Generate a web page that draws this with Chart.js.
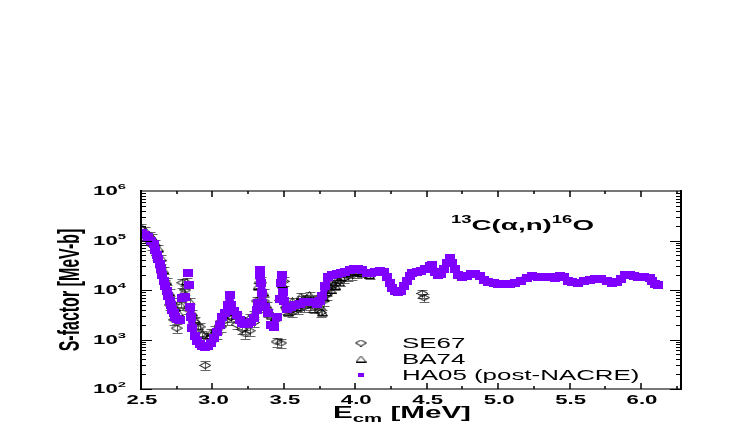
<!DOCTYPE html>
<html>
<head>
<meta charset="utf-8">
<script src="https://cdn.jsdelivr.net/npm/chart.js@4/dist/chart.umd.min.js"></script>
<style>
  body { margin: 0; background: #fff; }
  canvas { display: block; }
</style>
</head>
<body>
<canvas id="sfactorChart" width="747" height="436"></canvas>
<script>
// HA05 (post-NACRE) S-factor curve
const haE = [2.51, 2.53, 2.55, 2.57, 2.59, 2.60, 2.61, 2.62, 2.63, 2.64, 2.65, 2.66, 2.67, 2.68, 2.69, 2.70,
    2.71, 2.72, 2.73, 2.74, 2.75, 2.77, 2.79, 2.81, 2.83, 2.835, 2.845, 2.85, 2.86, 2.875, 2.89, 2.91,
    2.93, 2.95, 2.97, 2.99, 3.01, 3.03, 3.05, 3.07, 3.09, 3.11, 3.12, 3.13, 3.15, 3.17, 3.19, 3.21,
    3.23, 3.25, 3.27, 3.29, 3.31, 3.32, 3.33, 3.335, 3.34, 3.345, 3.35, 3.37, 3.39, 3.41, 3.43, 3.45,
    3.47, 3.48, 3.49, 3.495, 3.50, 3.52, 3.55, 3.58, 3.61, 3.64, 3.67, 3.70, 3.73, 3.75, 3.77, 3.79,
    3.81, 3.84, 3.87, 3.90, 3.93, 3.96, 3.99, 4.02, 4.05, 4.08, 4.11, 4.14, 4.17, 4.20, 4.22, 4.24,
    4.26, 4.28, 4.30, 4.32, 4.34, 4.36, 4.38, 4.40, 4.43, 4.46, 4.49, 4.52, 4.54, 4.56, 4.58, 4.60,
    4.62, 4.64, 4.66, 4.68, 4.70, 4.72, 4.75, 4.78, 4.81, 4.84, 4.87, 4.90, 4.93, 4.97, 5.00, 5.04,
    5.08, 5.12, 5.16, 5.20, 5.24, 5.28, 5.32, 5.36, 5.40, 5.43, 5.46, 5.49, 5.52, 5.56, 5.60, 5.64,
    5.68, 5.72, 5.76, 5.80, 5.83, 5.86, 5.89, 5.92, 5.95, 5.98, 6.02, 6.06, 6.08, 6.10, 6.12];
const haS = [1.45e5, 1.3e5, 1.15e5, 1.0e5, 8.5e4, 6.5e4, 5.2e4, 4.2e4, 3.3e4, 2.6e4, 2.0e4, 1.55e4, 1.2e4, 9.5e3, 7.5e3, 6.0e3,
    4.9e3, 4.0e3, 3.4e3, 2.9e3, 2.6e3, 2.5e3, 7.0e3, 7.2e3, 2.2e4, 1.25e4, 4.6e3, 2.8e3, 1.7e3, 1.2e3, 9.5e2, 8.0e2,
    7.3e2, 7.0e2, 7.3e2, 8.5e2, 1.05e3, 1.4e3, 2.0e3, 2.8e3, 3.5e3, 5.0e3, 8.0e3, 5.0e3, 3.8e3, 3.1e3, 2.5e3, 2.2e3,
    2.1e3, 2.1e3, 2.3e3, 2.7e3, 4.0e3, 5.5e3, 2.5e4, 2.0e4, 1.4e4, 8.5e3, 5.5e3, 4.5e3, 3.4e3, 2.0e3, 1.8e3, 2.8e3,
    6.5e3, 1.4e4, 2.0e4, 9.0e3, 6.0e3, 4.2e3, 4.5e3, 5.0e3, 5.2e3, 5.6e3, 5.8e3, 5.6e3, 5.2e3, 6.0e3, 7.5e3, 1.2e4,
    1.8e4, 2.0e4, 2.1e4, 2.2e4, 2.3e4, 2.5e4, 2.6e4, 2.7e4, 2.5e4, 2.2e4, 2.2e4, 2.3e4, 2.4e4, 2.3e4, 1.8e4, 1.4e4,
    1.1e4, 9.5e3, 9.0e3, 9.5e3, 1.2e4, 1.5e4, 1.9e4, 2.2e4, 2.3e4, 2.4e4, 2.6e4, 3.0e4, 3.2e4, 2.3e4, 2.0e4, 2.1e4,
    2.6e4, 3.5e4, 4.4e4, 3.5e4, 2.6e4, 2.0e4, 1.8e4, 1.9e4, 2.1e4, 2.1e4, 1.9e4, 1.6e4, 1.45e4, 1.4e4, 1.35e4, 1.32e4,
    1.32e4, 1.4e4, 1.55e4, 1.75e4, 1.9e4, 1.85e4, 1.8e4, 1.8e4, 1.75e4, 1.9e4, 1.8e4, 1.55e4, 1.45e4, 1.4e4, 1.5e4, 1.6e4,
    1.65e4, 1.65e4, 1.5e4, 1.4e4, 1.45e4, 1.7e4, 2.0e4, 2.0e4, 1.9e4, 1.8e4, 1.8e4, 1.75e4, 1.5e4, 1.35e4, 1.25e4];

// SE67 data (diamonds)
const seE = [2.52, 2.55, 2.58, 2.61, 2.64, 2.67, 2.70, 2.73, 2.75, 2.79, 2.81, 2.83, 2.87, 2.91, 2.95, 2.99,
    3.03, 3.06, 3.10, 3.13, 3.17, 3.21, 3.23, 3.26, 3.29, 3.31, 3.33, 3.36, 3.39, 3.45, 3.48, 3.50,
    3.52, 3.56, 3.60, 3.64, 3.68, 3.72, 3.76, 3.78, 3.80, 3.83, 3.86, 3.89, 3.92, 3.95, 3.98, 4.01,
    4.47, 4.48];
const seS = [1.2e5, 1.0e5, 8e4, 5e4, 2.8e4, 1.3e4, 5e3, 2.5e3, 1.7e3, 1.4e4, 1.0e4, 4e3, 2.3e3, 1.8e3, 3e2, 1.1e3,
    1.3e3, 1.8e3, 2.5e3, 2.8e3, 2e3, 1.6e3, 1.3e3, 1.5e3, 2.2e3, 6e3, 1.4e4, 6e3, 3.5e3, 9e2, 8.5e2, 1.5e4,
    4e3, 3.5e3, 4e3, 4.5e3, 5e3, 4.5e3, 3.5e3, 6e3, 8e3, 1.1e4, 1.3e4, 1.5e4, 1.7e4, 1.9e4, 2.0e4, 2.2e4,
    8.5e3, 7e3];
const seRelErr = 0.2;

// BA74 data (triangles)
const baE = [2.50, 2.53, 2.56, 2.58, 2.60, 2.62, 2.64, 2.66, 2.68, 2.70, 2.72, 2.74, 2.76, 2.78, 2.80, 2.82,
    2.84, 2.86, 2.88, 2.90, 2.93, 2.96, 2.99, 3.02, 3.05, 3.08, 3.11, 3.14, 3.17, 3.20, 3.23, 3.26,
    3.29, 3.32, 3.34, 3.36, 3.38, 3.41, 3.44, 3.47, 3.49, 3.51, 3.53, 3.54, 3.56, 3.57, 3.59, 3.60,
    3.62, 3.63, 3.65, 3.66, 3.68, 3.69, 3.71, 3.72, 3.74, 3.75, 3.77, 3.78, 3.80, 3.81, 3.83, 3.84,
    3.86, 3.87, 3.89, 3.90, 3.93, 3.96, 3.99, 4.02, 4.05, 4.10];
const baS = [1.9e5, 1.6e5, 1.3e5, 1.15e5, 9e4, 7e4, 4.5e4, 2.5e4, 1.5e4, 9e3, 6e3, 4.5e3, 3.5e3, 5e3, 9e3, 1.5e4,
    6e3, 3.5e3, 2.5e3, 1.8e3, 1.3e3, 1.2e3, 1.4e3, 1.6e3, 2.2e3, 3e3, 4.5e3, 3.5e3, 3e3, 2.5e3, 2.4e3, 2.8e3,
    3.3e3, 1.2e4, 1.6e4, 9e3, 5e3, 3e3, 2.8e3, 7e3, 1.3e4, 5e3, 3.5e3, 4e3, 6e3, 5e3, 4.5e3, 6e3,
    7.5e3, 6.5e3, 5e3, 7e3, 8e3, 6.5e3, 4e3, 6e3, 7e3, 5e3, 3.5e3, 7e3, 9e3, 1.2e4, 1.0e4, 1.4e4,
    1.2e4, 1.6e4, 1.4e4, 1.8e4, 2.2e4, 2.5e4, 2.3e4, 2.4e4, 2.2e4, 2.0e4];
const baRelErr = 0.15;

const xTicks = [2.5, 3.0, 3.5, 4.0, 4.5, 5.0, 5.5, 6.0];
const yDecades = [2, 3, 4, 5, 6];
const legendLabels = ["SE67", "BA74", "HA05 (post-NACRE)"];

const PURPLE = "#8000ff";
const STRETCH = 1.85;

function makeDash(w, h, color) {
    const c = document.createElement("canvas");
    c.width = w; c.height = h;
    const g = c.getContext("2d");
    g.fillStyle = color;
    g.fillRect(0, 0, w, h);
    return c;
}

function makeDiamond(w, h) {
    const c = document.createElement("canvas");
    c.width = w; c.height = h;
    const g = c.getContext("2d");
    g.strokeStyle = "#000";
    g.lineWidth = 1;
    g.beginPath();
    g.moveTo(w / 2, 0.5);
    g.lineTo(w - 0.5, h / 2);
    g.lineTo(w / 2, h - 0.5);
    g.lineTo(0.5, h / 2);
    g.closePath();
    g.stroke();
    return c;
}

function makeTriangle(w, h) {
    const c = document.createElement("canvas");
    c.width = w; c.height = h;
    const g = c.getContext("2d");
    g.strokeStyle = "#000";
    g.lineWidth = 1;
    g.beginPath();
    g.moveTo(w / 2, 0.5);
    g.lineTo(w - 0.5, h - 0.5);
    g.lineTo(0.5, h - 0.5);
    g.closePath();
    g.stroke();
    return c;
}

const dashImg = makeDash(10, 8, PURPLE);
const diamondImg = makeDiamond(12, 7);
const triangleImg = makeTriangle(11, 7);

function toPoints(xs, ys) {
    return xs.map((x, i) => ({ x: x, y: ys[i] }));
}

// text drawn with a horizontal stretch, like the original figure
function drawRich(ctx, parts, x, y, align) {
    ctx.save();
    let total = 0;
    parts.forEach(p => { ctx.font = p.font; total += ctx.measureText(p.t).width; });
    let start = 0;
    if (align == "center") start = -total / 2;
    if (align == "right") start = -total;
    ctx.translate(x, y);
    ctx.scale(STRETCH, 1);
    ctx.textAlign = "left";
    ctx.textBaseline = "alphabetic";
    ctx.fillStyle = "#000";
    let cx = start;
    parts.forEach(p => {
        ctx.font = p.font;
        ctx.fillText(p.t, cx, p.dy || 0);
        cx += ctx.measureText(p.t).width;
    });
    ctx.restore();
}

const FONT = "'Liberation Sans', Arial, sans-serif";

const overlayPlugin = {
    id: "overlay",
    beforeDatasetsDraw(chart) {
        const { ctx, chartArea: { left, right, top, bottom }, scales: { x, y } } = chart;
        ctx.save();
        ctx.beginPath();
        ctx.rect(left, top, right - left, bottom - top);
        ctx.clip();
        ctx.strokeStyle = "#666";
        ctx.lineWidth = 1;
        chart.data.datasets.forEach(ds => {
            if (!ds.relErr) return;
            ds.data.forEach(pt => {
                const px = Math.round(x.getPixelForValue(pt.x)) + 0.5;
                const y1 = Math.round(y.getPixelForValue(pt.y * (1 + ds.relErr))) + 0.5;
                const y2 = Math.round(y.getPixelForValue(pt.y * (1 - ds.relErr))) + 0.5;
                ctx.beginPath();
                ctx.moveTo(px, y1); ctx.lineTo(px, y2);
                ctx.moveTo(px - 5, y1); ctx.lineTo(px + 5, y1);
                ctx.moveTo(px - 5, y2); ctx.lineTo(px + 5, y2);
                ctx.stroke();
            });
        });
        ctx.restore();
    },
    afterDraw(chart) {
        const { ctx, chartArea: { left, right, top, bottom }, scales: { x, y } } = chart;
        ctx.save();

        // frame
        ctx.lineWidth = 2;
        ctx.strokeStyle = "#777";
        ctx.beginPath();
        ctx.moveTo(left, top); ctx.lineTo(right, top);
        ctx.moveTo(left, bottom); ctx.lineTo(right, bottom);
        ctx.stroke();
        ctx.strokeStyle = "#000";
        ctx.beginPath();
        ctx.moveTo(left, top - 1); ctx.lineTo(left, bottom + 1);
        ctx.moveTo(right, top - 1); ctx.lineTo(right, bottom + 1);
        ctx.stroke();

        // x ticks, inside, top and bottom
        ctx.lineWidth = 1.5;
        for (let v = 2.5; v <= 6.26; v += 0.25) {
            const px = Math.round(x.getPixelForValue(v));
            const major = Math.abs(v * 2 - Math.round(v * 2)) < 1e-6;
            const len = major ? 6 : 3;
            ctx.beginPath();
            ctx.moveTo(px, bottom); ctx.lineTo(px, bottom - len);
            ctx.moveTo(px, top); ctx.lineTo(px, top + len);
            ctx.stroke();
        }

        // y ticks (log), inside, left and right
        ctx.lineWidth = 1.2;
        for (let d = 2; d < 6; d++) {
            for (let m = 1; m < 10; m++) {
                const py = Math.round(y.getPixelForValue(m * Math.pow(10, d))) + 0.5;
                const len = m == 1 ? 11 : 5;
                ctx.beginPath();
                ctx.moveTo(left, py); ctx.lineTo(left + len, py);
                ctx.moveTo(right, py); ctx.lineTo(right - len, py);
                ctx.stroke();
            }
        }

        // tick labels
        xTicks.forEach(v => {
            drawRich(ctx, [{ t: v.toFixed(1), font: "bold 12px " + FONT }], x.getPixelForValue(v) + 1, 403.5, "center");
        });
        yDecades.forEach(d => {
            const py = y.getPixelForValue(Math.pow(10, d));
            drawRich(ctx, [
                { t: "10", font: "bold 12px " + FONT },
                { t: String(d), font: "bold 8px " + FONT, dy: -6 }
            ], 126, py + 4, "right");
        });

        // axis titles
        drawRich(ctx, [
            { t: "E", font: "bold 16px " + FONT },
            { t: "cm", font: "bold 11px " + FONT, dy: 4 },
            { t: " [MeV]", font: "bold 16px " + FONT }
        ], 402, 418, "center");

        ctx.save();
        ctx.translate(79, (top + bottom) / 2);
        ctx.rotate(-Math.PI / 2);
        ctx.scale(1, STRETCH);
        ctx.font = "bold 16px " + FONT;
        ctx.textAlign = "center";
        ctx.textBaseline = "alphabetic";
        ctx.fillStyle = "#000";
        ctx.fillText("S-factor [MeV-b]", 0, 0);
        ctx.restore();

        // reaction label
        drawRich(ctx, [
            { t: "13", font: "bold 10px " + FONT, dy: -7 },
            { t: "C(\u03b1,n)", font: "bold 15px " + FONT },
            { t: "16", font: "bold 10px " + FONT, dy: -7 },
            { t: "O", font: "bold 15px " + FONT }
        ], 451, 230, "left");

        // legend
        const markers = [diamondImg, triangleImg, makeDash(6, 4, PURPLE)];
        const rows = [343, 359, 375];
        markers.forEach((img, i) => {
            ctx.drawImage(img, 361 - img.width / 2, rows[i] - img.height / 2);
            drawRich(ctx, [{ t: legendLabels[i], font: "14px " + FONT }], 402, rows[i] + 5, "left");
        });

        ctx.restore();
    }
};

new Chart(document.getElementById("sfactorChart"), {
    type: "scatter",
    data: {
        datasets: [
            {
                label: legendLabels[2],
                data: toPoints(haE, haS),
                pointStyle: dashImg,
                showLine: true,
                borderColor: PURPLE,
                borderWidth: 7,
                borderJoinStyle: "round",
                // narrow resonances show up as separate dashes, not as a joined line
                segment: {
                    borderColor: c => Math.abs(c.p1.y - c.p0.y) > 11 ? "rgba(0,0,0,0)" : PURPLE
                }
            },
            {
                label: legendLabels[1],
                data: toPoints(baE, baS),
                pointStyle: triangleImg,
                relErr: baRelErr
            },
            {
                label: legendLabels[0],
                data: toPoints(seE, seS),
                pointStyle: diamondImg,
                relErr: seRelErr
            }
        ]
    },
    options: {
        responsive: false,
        animation: false,
        events: [],
        layout: { padding: { left: 141, top: 191, right: 66, bottom: 47 } },
        plugins: {
            legend: { display: false },
            tooltip: { enabled: false }
        },
        scales: {
            x: { type: "linear", min: 2.5, max: 6.28, display: false },
            y: { type: "logarithmic", min: 100, max: 1e6, display: false }
        }
    },
    plugins: [overlayPlugin]
});
</script>
</body>
</html>
